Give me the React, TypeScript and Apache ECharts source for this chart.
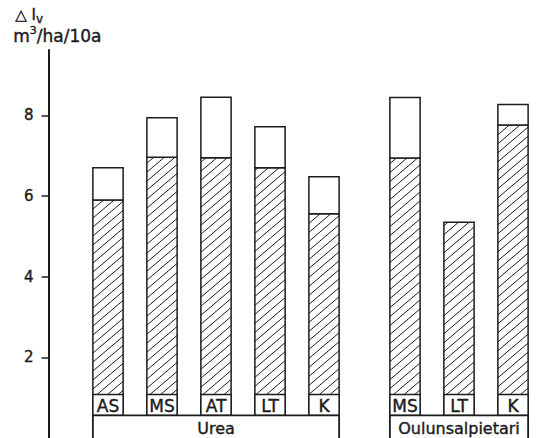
import React, { useEffect, useRef } from 'react';
import * as echarts from 'echarts';

// Volume increment by fertiliser treatment, grouped by nitrogen source
const groupNames = ['Urea', 'Oulunsalpietari'];
const groupTreatments = [
  ['AS', 'MS', 'AT', 'LT', 'K'],
  ['MS', 'LT', 'K'],
];
// hatched (lower) part of each bar
const hatchedValues = [
  [5.9, 6.96, 6.95, 6.7, 5.56],
  [6.94, 5.35, 7.76],
];
// full bar height (hatched + open part)
const totalValues = [
  [6.7, 7.94, 8.45, 7.72, 6.48],
  [8.44, 5.35, 8.27],
];
const yTickValues = [2, 4, 6, 8];

const INK = '#1c1c1c';
const FONT = '"DejaVu Sans", "Liberation Sans", Arial, sans-serif';
const INK_STROKE = { stroke: INK, lineWidth: 0.4 };
const BAR_HALF = 0.28;
const GROUP_GAP = 0.5;
const BOX_TOP = 1.08;
const BOX_BOTTOM = 0.56;
const GROUP_LABEL_Y = 0.23;
const HATCH_SLOPE = 0.85;
const HATCH_STEP = 9;

type Bar = { name: string; value: [number, number, number] };
type Group = { name: string; value: [number, number] };

const bars: Bar[] = [];
const groups: Group[] = [];
let slot = 0;
groupTreatments.forEach((names, g) => {
  if (g > 0) slot += GROUP_GAP;
  const start = slot;
  names.forEach((name, i) => {
    bars.push({ name, value: [slot, totalValues[g][i], hatchedValues[g][i]] });
    slot += 1;
  });
  groups.push({ name: groupNames[g], value: [start, slot - 1] });
});

// diagonal hatch lines ("/") clipped to a rectangle, on a page-wide grid
function hatchLines(x0: number, x1: number, yTop: number, yBot: number) {
  const out: any[] = [];
  const cMin = yTop + HATCH_SLOPE * x0;
  const cMax = yBot + HATCH_SLOPE * x1;
  for (let c = Math.floor(cMin / HATCH_STEP) * HATCH_STEP; c <= cMax; c += HATCH_STEP) {
    // line: y = c - k*x
    const xs = Math.max(x0, (c - yBot) / HATCH_SLOPE);
    const xe = Math.min(x1, (c - yTop) / HATCH_SLOPE);
    if (xe - xs < 0.5) continue;
    out.push({
      type: 'line',
      shape: { x1: xs, y1: c - HATCH_SLOPE * xs, x2: xe, y2: c - HATCH_SLOPE * xe },
      style: { stroke: INK, lineWidth: 1 },
    });
  }
  return out;
}

const option: any = {
  animation: false,
  backgroundColor: '#ffffff',
  grid: { left: 48.6, right: 3.8, top: 50, bottom: -0.5, containLabel: false },
  xAxis: { type: 'value', min: -1.1, max: 8.3, show: false },
  yAxis: {
    type: 'value',
    min: 0,
    max: 9.62,
    splitLine: { show: false },
    axisLine: { show: true, onZero: false, lineStyle: { color: INK, width: 2 } },
    axisTick: { show: true, length: 7, customValues: yTickValues, lineStyle: { color: INK, width: 1.5 } },
    axisLabel: {
      customValues: yTickValues,
      margin: 15,
      color: INK,
      fontSize: 15,
      fontFamily: FONT,
      textBorderColor: INK,
      textBorderWidth: 0.4,
    },
  },
  graphic: [
    {
      type: 'text',
      left: 15,
      top: 7,
      style: {
        text: '{a|△ I}{b|v}',
        rich: {
          a: { fontSize: 15, fontFamily: FONT, fill: INK, lineHeight: 20, verticalAlign: 'middle', ...INK_STROKE },
          b: { fontSize: 12, fontFamily: FONT, fill: INK, lineHeight: 12, verticalAlign: 'bottom', ...INK_STROKE },
        },
      },
    },
    {
      type: 'text',
      left: 13,
      top: 25,
      style: {
        text: '{a|m}{s|3}{a|/ha/10a}',
        rich: {
          a: { fontSize: 17, fontFamily: FONT, fill: INK, lineHeight: 22, verticalAlign: 'middle', ...INK_STROKE },
          s: { fontSize: 11, fontFamily: FONT, fill: INK, lineHeight: 11, verticalAlign: 'top', ...INK_STROKE },
        },
      },
    },
  ],
  series: [
    {
      type: 'custom',
      name: 'bars',
      clip: false,
      z: 2,
      encode: { x: 0, y: 1 },
      data: bars,
      renderItem: (params: any, api: any) => {
        const x = api.value(0);
        const total = api.value(1);
        const hat = api.value(2);
        const [xl, y0] = api.coord([x - BAR_HALF, 0]);
        const [xr, yH] = api.coord([x + BAR_HALF, hat]);
        const yT = api.coord([x, total])[1];
        const yBT = api.coord([x, BOX_TOP])[1];
        const yBB = api.coord([x, BOX_BOTTOM])[1];
        const w = xr - xl;
        const children: any[] = [
          { type: 'rect', shape: { x: xl, y: yH, width: w, height: y0 - yH }, style: { fill: '#fff' } },
          ...hatchLines(xl, xr, yH, y0),
          {
            type: 'rect',
            shape: { x: xl, y: yH, width: w, height: y0 - yH },
            style: { fill: 'none', stroke: INK, lineWidth: 1.5 },
          },
        ];
        if (total - hat > 0.001) {
          children.push({
            type: 'rect',
            shape: { x: xl, y: yT, width: w, height: yH - yT },
            style: { fill: '#fff', stroke: INK, lineWidth: 1.5 },
          });
        }
        children.push(
          {
            type: 'rect',
            shape: { x: xl, y: yBT, width: w, height: yBB - yBT },
            style: { fill: '#fff', stroke: INK, lineWidth: 1.5 },
          },
          {
            type: 'text',
            x: (xl + xr) / 2,
            y: (yBT + yBB) / 2 + 1,
            style: {
              text: bars[params.dataIndex].name,
              align: 'center',
              verticalAlign: 'middle',
              fontSize: 17,
              fontFamily: FONT,
              fill: INK,
              ...INK_STROKE,
            },
          }
        );
        return { type: 'group', children };
      },
    },
    {
      type: 'custom',
      name: 'groups',
      clip: false,
      z: 3,
      encode: { x: [0, 1] },
      data: groups,
      renderItem: (params: any, api: any) => {
        const s = api.value(0);
        const e = api.value(1);
        const [xl, yTop] = api.coord([s - BAR_HALF, BOX_BOTTOM]);
        const [xr, yBot] = api.coord([e + BAR_HALF, -0.6]);
        const yText = api.coord([s, GROUP_LABEL_Y])[1];
        return {
          type: 'group',
          children: [
            {
              type: 'rect',
              shape: { x: xl, y: yTop, width: xr - xl, height: yBot - yTop },
              style: { fill: '#fff', stroke: INK, lineWidth: 1.8 },
            },
            {
              type: 'text',
              x: (xl + xr) / 2,
              y: yText,
              style: {
                text: groups[params.dataIndex].name,
                align: 'center',
                verticalAlign: 'middle',
                fontSize: 16,
                fontFamily: FONT,
                fill: INK,
                ...INK_STROKE,
              },
            },
          ],
        };
      },
    },
  ],
};

export default function App() {
  const ref = useRef<HTMLDivElement>(null);
  useEffect(() => {
    const chart = echarts.init(ref.current!, null, { renderer: 'svg' });
    chart.setOption(option);
    return () => chart.dispose();
  }, []);
  return (
    <div
      ref={ref}
      style={{ width: 560, height: 438, position: 'absolute', left: 0, top: 0, background: '#fff' }}
    />
  );
}
